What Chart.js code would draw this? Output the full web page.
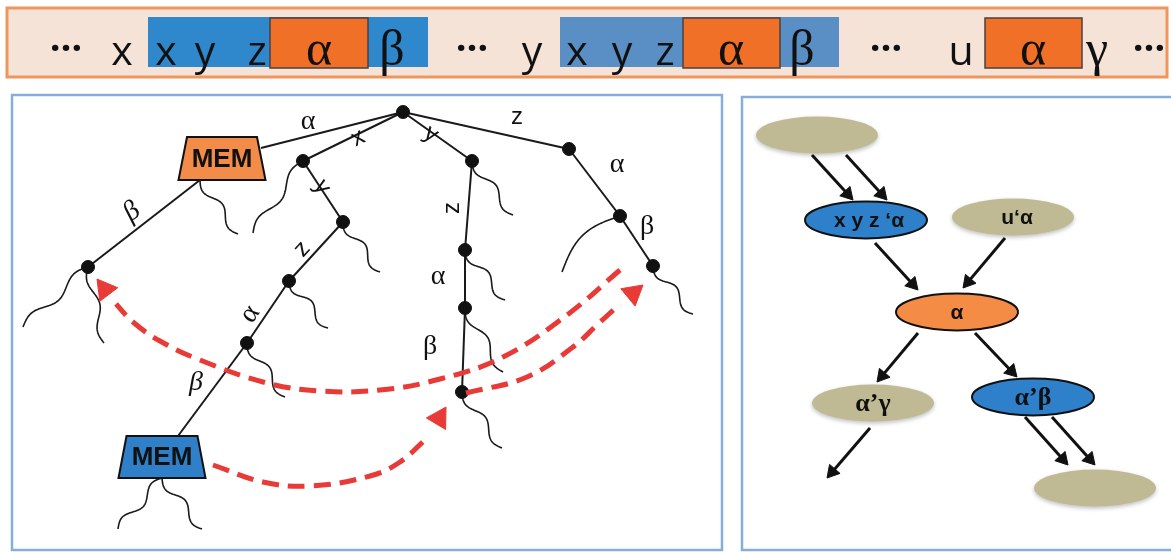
<!DOCTYPE html>
<html><head><meta charset="utf-8">
<script src="https://cdn.jsdelivr.net/npm/chart.js@4.4.0/dist/chart.umd.min.js"></script>
<style>html,body{margin:0;padding:0;background:#fff;overflow:hidden}canvas{display:block}</style>
</head><body>
<canvas id="c" width="1171" height="552"></canvas>
<script>
// ================= DATA =================
// Top sequence strip
const stripTokens = ['…','x','x','y','z','α','β','…','y','x','y','z','α','β','…','u','α','γ','…'];
const stripBlueGroups = [[2,6],[9,13]];      // token index ranges shown in blue
const stripOrangeTokens = [5,12,16];          // tokens shown in orange

// Trie (left panel)
const nodeNames = ['root','A','B','C','D','E','F','G','H','I','J','K','L','memOr','memOb','memBt'];
const nodeX     = [403,303,343,289,247, 88,472,465,465,462,569,620,653,261,200,178];
const nodeY     = [112,161,222,281,343,267,161,250,308,392,149,216,266,148,180,436];
const dotNodes  = ['root','A','B','C','D','E','F','G','H','I','J','K','L'];
const edgeFrom  = ['root','root','A','B','C','D','memOb','root','F','G','H','root','J','K'];
const edgeTo    = ['memOr','A','B','C','D','memBt','E','F','G','H','I','J','K','L'];
const edgeLabel = ['α','x','y','z','α','β','β','y','z','α','β','z','α','β'];
const memLabels = ['MEM','MEM'];
const memCenterX = [222,162];
const memCenterY = [159,457];
// wavy sub-tree stubs
const stubFrom = ['memOb','A','B','C','D','E','E','memBc','memBc','F','G','H','I','K','L'];
const stubEndX = [238,253,380,328,285, 23,104,118,202,513,505,503,502,562,693];
const stubEndY = [234,233,272,328,397,327,343,529,529,215,300,372,448,272,314];
// red dashed jumps
const jumpX = [
  [620,567,503,440,380,320,267,200,160,133,116],
  [466,527,573,598,620],
  [213,263,310,370,400,428]
];
const jumpY = [
  [270,315,357,379,390,391,383,360,341,322,304],
  [393,377,347,324,304],
  [465,482,486,476,462,437]
];
const jumpTipX = [97,643,446];
const jumpTipY = [279,285,407];

// Graph (right panel)
const graphLabels = ['', 'x y z ‘α', 'u‘α', 'α', 'α’γ', 'α’β', ''];
const graphKinds  = ['tan','blue','tan','orange','tan','blue','tan'];
const graphX      = [817,866,1013,957,873,1033,1095];
const graphY      = [135,220,217,312,403,397,488];
const arrowX1 = [812,846,875,1005,918,975,870,1025,1052];
const arrowY1 = [155,155,243,238,333,333,428,417,417];
const arrowX2 = [853,887,918,963,877,1017,827,1068,1095];
const arrowY2 = [200,200,290,288,382,377,478,465,465];

// ================= LAYOUT / STYLE =================
const stripBox = {l:7,t:8,r:1167,b:77};
const stripTokenX = [66,122,166,205,257,319,392,472,532,577,622,665,731,802,886,961,1033,1097,1149];
const stripBlueSpan = [[148,428],[560,839]];
const stripBlueColor = ['#2f87cc','#5a8fc6'];
const stripOrangeSpan = [[270,368],[683,780],[985,1082]];
const leftPanel = {l:12,t:95,r:722,b:550};
const rightPanel = {l:742,t:97,r:1190,b:550};
const labelX   = [308,358,322,302,250,196,132,431,452,438,430,517,617,647];
const labelY   = [122,138,187,249,314,383,212,134,208,277,347,117,165,227];
const labelRot = [0,-26,57,-48,-56,0,-37,35,-90,0,0,0,0,0];
const labelFont= ['s','g','g','g','s','si','si','g','g','s','s','g','s','s'];
const stubWaves = [1.5,1.5,1.5,1.5,1.5,1.5,1.5,1.5,1.5,1.5,1.5,1.5,1.5,0.5,1.5];
const stubAmp   = [4.5,4.5,4.5,4.5,4.5,4.5,4,4.5,4.5,4.5,4.5,4.5,4.5,12,4.5];
const RED = '#e83a36';

// ================= BUILD =================
const P = {};
nodeNames.forEach((n,i)=>P[n]={x:nodeX[i],y:nodeY[i]});
P.memBc = {x:memCenterX[1], y:478};

const datasets = [];
// red arrow heads
const redHeads = jumpTipX.map((tx,i)=>{
  const lx = jumpX[i][jumpX[i].length-1], ly = jumpY[i][jumpY[i].length-1];
  const ty = jumpTipY[i];
  const L = Math.hypot(tx-lx, ty-ly), ux=(tx-lx)/L, uy=(ty-ly)/L, r=13;
  return {x: tx-ux*r, y: ty-uy*r, rot: Math.atan2(ux,-uy)*180/Math.PI};
});
datasets.push({data: redHeads.map(h=>({x:h.x,y:h.y})), pointStyle:'triangle',
  rotation: redHeads.map(h=>h.rot), pointRadius:13, backgroundColor:RED, borderColor:RED,
  borderWidth:1, order:0});
// red dashed arcs
jumpX.forEach((xs,i)=>{
  datasets.push({data: xs.map((x,j)=>({x, y:jumpY[i][j]})), showLine:true, tension:0.4,
    borderColor:RED, borderWidth:5, borderDash:[17,9], pointRadius:0, order:1});
});
// black arrows
const bHeads = arrowX1.map((x1,i)=>{
  const y1=arrowY1[i], x2=arrowX2[i], y2=arrowY2[i];
  const L=Math.hypot(x2-x1,y2-y1), ux=(x2-x1)/L, uy=(y2-y1)/L, r=8;
  return {cx:x2-ux*r, cy:y2-uy*r, rot:Math.atan2(ux,-uy)*180/Math.PI, x1, y1};
});
datasets.push({data: bHeads.map(h=>({x:h.cx,y:h.cy})), pointStyle:'triangle',
  rotation: bHeads.map(h=>h.rot), pointRadius:8, backgroundColor:'#111', borderColor:'#111',
  borderWidth:1, order:0});
bHeads.forEach(h=>{
  datasets.push({data:[{x:h.x1,y:h.y1},{x:h.cx,y:h.cy}], showLine:true, borderColor:'#111',
    borderWidth:3, pointRadius:0, order:1});
});
// trie nodes
datasets.push({data: dotNodes.map(n=>({x:P[n].x,y:P[n].y})), pointRadius:6.5,
  backgroundColor:'#111', borderColor:'#111', order:2});
// trie edges
edgeFrom.forEach((f,i)=>{
  datasets.push({data:[{x:P[f].x,y:P[f].y},{x:P[edgeTo[i]].x,y:P[edgeTo[i]].y}], showLine:true,
    borderColor:'#1a1a1a', borderWidth:2, pointRadius:0, order:3});
});

function squiggle(ctx, x0,y0,x1,y1,waves,amp){
  const dx=x1-x0, dy=y1-y0, L=Math.hypot(dx,dy), nx=-dy/L, ny=dx/L;
  ctx.beginPath();
  for(let i=0;i<=60;i++){
    const t=i/60, o=amp*Math.sin(2*Math.PI*waves*t);
    const px=x0+dx*t+nx*o, py=y0+dy*t+ny*o;
    if(i===0) ctx.moveTo(px,py); else ctx.lineTo(px,py);
  }
  ctx.stroke();
}
function trapezoid(ctx, X, Y, cx, top, bot, hwTop, hwBot, fill){
  ctx.beginPath();
  ctx.moveTo(X(cx-hwTop),Y(top)); ctx.lineTo(X(cx+hwTop),Y(top));
  ctx.lineTo(X(cx+hwBot),Y(bot)); ctx.lineTo(X(cx-hwBot),Y(bot)); ctx.closePath();
  ctx.fillStyle=fill; ctx.fill(); ctx.lineWidth=2; ctx.strokeStyle='#111'; ctx.stroke();
}

const diagram = {
  id:'diagram',
  beforeDatasetsDraw(chart){
    const ctx=chart.ctx, X=v=>chart.scales.x.getPixelForValue(v), Y=v=>chart.scales.y.getPixelForValue(v);
    ctx.save();
    // strip
    ctx.fillStyle='#f6e3d8';
    ctx.fillRect(X(stripBox.l),Y(stripBox.t),X(stripBox.r)-X(stripBox.l),Y(stripBox.b)-Y(stripBox.t));
    stripBlueSpan.forEach((s,i)=>{ctx.fillStyle=stripBlueColor[i];ctx.fillRect(X(s[0]),Y(17),X(s[1])-X(s[0]),Y(67)-Y(17));});
    stripOrangeSpan.forEach(s=>{
      ctx.fillStyle='#f07027'; ctx.fillRect(X(s[0]),Y(18),X(s[1])-X(s[0]),Y(68)-Y(18));
      ctx.lineWidth=1.5; ctx.strokeStyle='#4d4040'; ctx.strokeRect(X(s[0]),Y(18),X(s[1])-X(s[0]),Y(68)-Y(18));
    });
    ctx.lineWidth=3; ctx.strokeStyle='#f0965c';
    ctx.strokeRect(X(stripBox.l),Y(stripBox.t),X(stripBox.r)-X(stripBox.l),Y(stripBox.b)-Y(stripBox.t));
    // panels
    ctx.lineWidth=2.5; ctx.strokeStyle='#85aedb';
    [leftPanel,rightPanel].forEach(p=>ctx.strokeRect(X(p.l),Y(p.t),X(p.r)-X(p.l),Y(p.b)-Y(p.t)));
    // stubs
    ctx.lineWidth=1.6; ctx.strokeStyle='#1a1a1a';
    stubFrom.forEach((f,i)=>squiggle(ctx,X(P[f].x),Y(P[f].y),X(stubEndX[i]),Y(stubEndY[i]),stubWaves[i],stubAmp[i]));
    // MEM blocks
    trapezoid(ctx,X,Y,memCenterX[0],137,180,35,43.5,'#f28c48');
    trapezoid(ctx,X,Y,memCenterX[1],436,478,35.5,43.5,'#2f7fc9');
    // graph ellipses
    graphKinds.forEach((k,i)=>{
      ctx.save();
      ctx.beginPath(); ctx.ellipse(X(graphX[i]),Y(graphY[i]),61,18.5,0,0,Math.PI*2);
      if(k==='tan'){ctx.shadowColor='rgba(0,0,0,0.25)';ctx.shadowBlur=4;ctx.shadowOffsetY=2;ctx.fillStyle='#bfb994';ctx.fill();}
      else{ctx.fillStyle=k==='blue'?'#2e80ca':'#f58c46';ctx.fill();ctx.lineWidth=2;ctx.strokeStyle='#111';ctx.stroke();}
      ctx.restore();
    });
    ctx.restore();
  },
  afterDatasetsDraw(chart){
    const ctx=chart.ctx, X=v=>chart.scales.x.getPixelForValue(v), Y=v=>chart.scales.y.getPixelForValue(v);
    ctx.save();
    ctx.textAlign='center'; ctx.fillStyle='#111';
    // strip text
    stripTokens.forEach((t,i)=>{
      const greek=/[α-ω]/.test(t);
      if(t==='…'){ctx.font='bold 38px "Open Sans"';ctx.textBaseline='alphabetic';ctx.fillText(t,X(stripTokenX[i]),Y(51));}
      else if(greek){ctx.font='50px "Liberation Serif"';ctx.fillText(t,X(stripTokenX[i]),Y(65));}
      else{ctx.font='41px "Open Sans"';ctx.fillText(t,X(stripTokenX[i]),Y(65));}
    });
    // trie labels
    ctx.textBaseline='middle';
    edgeLabel.forEach((t,i)=>{
      const f=labelFont[i];
      ctx.font = f==='s' ? '28px "Liberation Serif"' : f==='si' ? 'italic 28px "Liberation Serif"' : '24px "Liberation Sans"';
      ctx.save(); ctx.translate(X(labelX[i]),Y(labelY[i])); ctx.rotate(labelRot[i]*Math.PI/180);
      ctx.fillText(t,0,0); ctx.restore();
    });
    ctx.font='bold 26px "Liberation Sans"';
    memLabels.forEach((t,i)=>ctx.fillText(t,X(memCenterX[i]),Y(memCenterY[i])+1));
    // graph labels
    graphLabels.forEach((t,i)=>{
      if(!t) return;
      ctx.font = graphKinds[i]==='tan'&&i===4 || i===5 ? 'bold 26px "Liberation Serif"' : 'bold 21px "Liberation Sans"';
      ctx.fillText(t,X(graphX[i]+ (i===1?3:i===2?4:0)),Y(graphY[i])+1);
    });
    ctx.restore();
  }
};

new Chart(document.getElementById('c'),{
  type:'scatter',
  data:{datasets},
  options:{
    responsive:false, animation:false, events:[],
    layout:{padding:0, autoPadding:false},
    plugins:{legend:{display:false},tooltip:{enabled:false}},
    scales:{
      x:{type:'linear',min:0,max:1171,display:false},
      y:{type:'linear',min:0,max:552,reverse:true,display:false}
    }
  },
  plugins:[diagram]
});
</script>
</body></html>
